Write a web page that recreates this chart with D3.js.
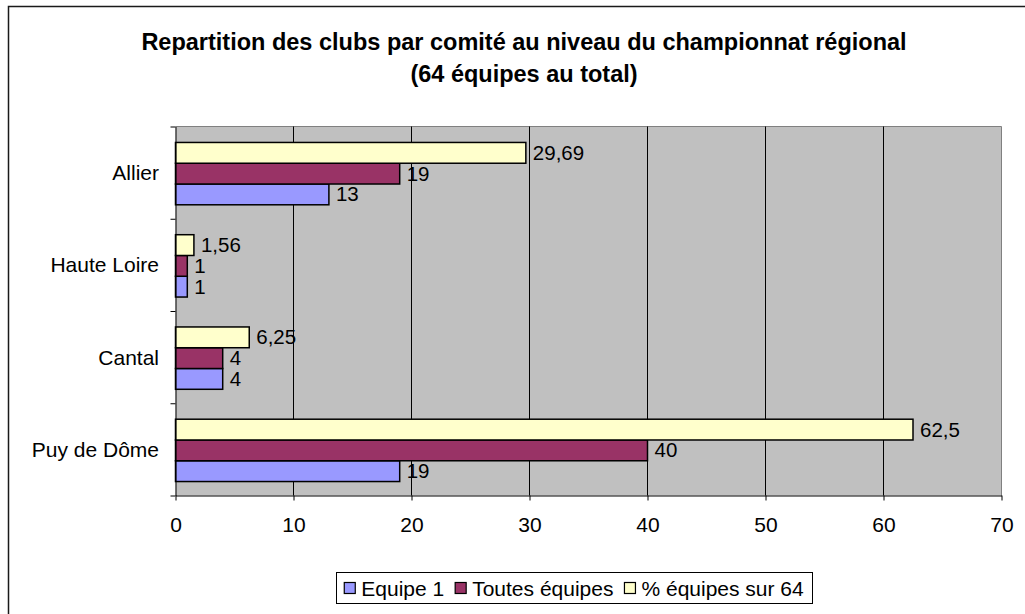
<!DOCTYPE html>
<html>
<head>
<meta charset="utf-8">
<script src="https://cdn.jsdelivr.net/npm/d3@7"></script>
<style>
  html, body { margin: 0; padding: 0; background: #fff; }
  svg { display: block; }
  text { font-family: "Liberation Sans", Arial, sans-serif; fill: #000; }
</style>
</head>
<body>
<svg id="chart" width="1025" height="614"></svg>
<script>
// ---- Data ----
const titleLines = ["Repartition des clubs par comité au niveau du championnat régional", "(64 équipes au total)"];
const categories = ["Allier", "Haute Loire", "Cantal", "Puy de Dôme"];
const seriesNames = ["Equipe 1", "Toutes équipes", "% équipes sur 64"];
const equipe1 = [13, 1, 4, 19];
const toutesEquipes = [19, 1, 4, 40];
const pctEquipes = [29.69, 1.56, 6.25, 62.5];
const xTicks = [0, 10, 20, 30, 40, 50, 60, 70];
const seriesColors = ["#9999FF", "#993366", "#FFFFCC"];

// ---- Layout ----
const svg = d3.select("#chart");
const plot = { left: 175.5, right: 1001.5, top: 126.5, bottom: 495.5 };
const fmt = v => String(v).replace(".", ",");

const series = seriesNames.map((name, i) => ({
  name, color: seriesColors[i], values: [equipe1, toutesEquipes, pctEquipes][i]
}));

// outer frame
svg.append("rect").attr("x", 8.5).attr("y", 6.5).attr("width", 1100).attr("height", 700)
  .attr("fill", "#fff").attr("stroke", "#1a1a1a").attr("stroke-width", 1.5);

// title
svg.append("text").attr("x", 524).attr("y", 50).attr("text-anchor", "middle")
  .style("font-weight", "bold").style("font-size", "23.5px")
  .selectAll("tspan").data(titleLines).join("tspan")
  .attr("x", 524).attr("dy", (d, i) => i === 0 ? 0 : 32).text(d => d);

const x = d3.scaleLinear().domain([0, 70]).range([plot.left, plot.right]);
const y = d3.scaleBand().domain(categories).range([plot.top, plot.bottom]);
// series drawn top to bottom in reverse order (like Excel)
const ys = d3.scaleBand().domain([2, 1, 0]).range([1, y.bandwidth() + 1]).paddingOuter(0.72);

// plot background
svg.append("rect").attr("x", plot.left).attr("y", plot.top)
  .attr("width", plot.right - plot.left).attr("height", plot.bottom - plot.top)
  .attr("fill", "#c0c0c0");
svg.append("path")
  .attr("d", `M${plot.left},${plot.top}H${plot.right}V${plot.bottom}`)
  .attr("fill", "none").attr("stroke", "#808080").attr("stroke-width", 1);

// gridlines
svg.append("g").selectAll("line").data(xTicks.filter(t => t > 0 && t < 70)).join("line")
  .attr("x1", d => x(d)).attr("x2", d => x(d))
  .attr("y1", plot.top).attr("y2", plot.bottom)
  .attr("stroke", "#000").attr("stroke-width", 1);

// bars
const barG = svg.append("g");
series.forEach((s, si) => {
  barG.append("g").selectAll("rect").data(categories).join("rect")
    .attr("x", x(0))
    .attr("y", (c) => y(c) + ys(si))
    .attr("width", (c, i) => x(s.values[i]) - x(0))
    .attr("height", ys.bandwidth())
    .attr("fill", s.color).attr("stroke", "#000").attr("stroke-width", 1.5);
  barG.append("g").selectAll("text").data(categories).join("text")
    .attr("x", (c, i) => x(s.values[i]) + 7)
    .attr("y", (c) => y(c) + ys(si) + ys.bandwidth() / 2)
    .attr("dy", "0.34em")
    .style("font-size", "20.5px")
    .text((c, i) => fmt(s.values[i]));
});

// bottom axis
const xAxis = svg.append("g").attr("transform", `translate(0,${plot.bottom})`)
  .call(d3.axisBottom(x).tickValues(xTicks).tickSize(5).tickSizeOuter(0).tickPadding(17).tickFormat(d => d));
xAxis.select(".domain").attr("stroke", "#000").attr("stroke-width", 1);
xAxis.selectAll(".tick line").attr("stroke", "#000");
xAxis.selectAll("text").style("font-size", "21px");
xAxis.attr("font-family", null).attr("font-size", null);

// left axis (ticks at category boundaries)
const yb = d3.scaleLinear().domain([0, categories.length]).range([plot.bottom, plot.top]);
const yAxis = svg.append("g").attr("transform", `translate(${plot.left},0)`)
  .call(d3.axisLeft(yb).tickValues(d3.range(categories.length + 1)).tickSize(5).tickSizeOuter(0).tickFormat(""));
yAxis.select(".domain").attr("stroke", "#000");
yAxis.selectAll(".tick line").attr("stroke", "#000");

// category labels
svg.append("g").selectAll("text").data(categories).join("text")
  .attr("x", 159).attr("y", c => y(c) + y.bandwidth() / 2)
  .attr("dy", "0.36em").attr("text-anchor", "end")
  .style("font-size", "21px").text(c => c);

// legend
const lg = svg.append("g");
lg.append("rect").attr("x", 336.5).attr("y", 572.5).attr("width", 476).attr("height", 31)
  .attr("fill", "#fff").attr("stroke", "#000").attr("stroke-width", 1);
const items = lg.append("g");
let cx = 0;
const gap = 11;
series.forEach((s, i) => {
  const it = items.append("g").attr("transform", `translate(${cx},0)`);
  it.append("rect").attr("x", 0).attr("y", -5.5).attr("width", 11).attr("height", 11)
    .attr("fill", s.color).attr("stroke", "#000").attr("stroke-width", 1.2);
  const t = it.append("text").attr("x", 17).attr("y", 0).attr("dy", "0.36em")
    .style("font-size", "21px").text(s.name);
  cx += 17 + t.node().getComputedTextLength() + gap;
});
const totalW = cx - gap;
items.attr("transform", `translate(${574 - totalW / 2},588)`);
</script>
</body>
</html>
